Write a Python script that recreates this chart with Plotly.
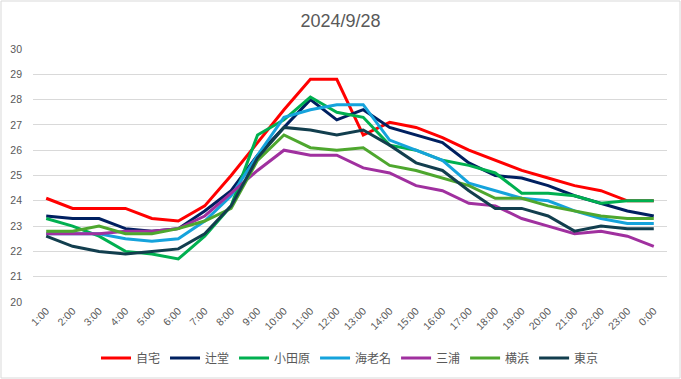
import plotly.graph_objects as go

hours = ["1:00", "2:00", "3:00", "4:00", "5:00", "6:00", "7:00", "8:00", "9:00", "10:00", "11:00", "12:00",
         "13:00", "14:00", "15:00", "16:00", "17:00", "18:00", "19:00", "20:00", "21:00", "22:00", "23:00", "0:00"]

jitaku = [24.1, 23.7, 23.7, 23.7, 23.3, 23.2, 23.8, 25.0, 26.3, 27.6, 28.8, 28.8,
          26.6, 27.1, 26.9, 26.5, 26.0, 25.6, 25.2, 24.9, 24.6, 24.4, 24.0, 24.0]
tsujido = [23.4, 23.3, 23.3, 22.9, 22.8, 22.9, 23.6, 24.4, 25.8, 26.9, 28.0, 27.2,
           27.6, 26.9, 26.6, 26.3, 25.5, 25.0, 24.9, 24.6, 24.2, 23.9, 23.6, 23.4]
odawara = [23.3, 23.0, 22.6, 22.0, 21.9, 21.7, 22.6, 23.8, 26.6, 27.2, 28.1, 27.5,
           27.3, 26.2, 26.0, 25.6, 25.4, 25.1, 24.3, 24.3, 24.2, 23.9, 24.0, 24.0]
ebina = [22.7, 22.7, 22.7, 22.5, 22.4, 22.5, 23.2, 24.2, 25.8, 27.3, 27.6, 27.8,
         27.8, 26.4, 26.0, 25.6, 24.7, 24.4, 24.1, 24.0, 23.6, 23.3, 23.1, 23.1]
miura = [22.7, 22.7, 22.7, 22.8, 22.8, 22.9, 23.4, 24.3, 25.2, 26.0, 25.8, 25.8,
         25.3, 25.1, 24.6, 24.4, 23.9, 23.8, 23.3, 23.0, 22.7, 22.8, 22.6, 22.2]
yokohama = [22.8, 22.8, 23.0, 22.7, 22.7, 22.9, 23.2, 23.7, 25.6, 26.6, 26.1, 26.0,
            26.1, 25.4, 25.2, 24.9, 24.6, 24.1, 24.1, 23.8, 23.6, 23.4, 23.3, 23.3]
tokyo = [22.6, 22.2, 22.0, 21.9, 22.0, 22.1, 22.7, 23.8, 25.7, 26.9, 26.8, 26.6,
         26.8, 26.2, 25.5, 25.2, 24.4, 23.7, 23.7, 23.4, 22.8, 23.0, 22.9, 22.9]

series_names = ["自宅", "辻堂", "小田原", "海老名", "三浦", "横浜", "東京"]
series_values = [jitaku, tsujido, odawara, ebina, miura, yokohama, tokyo]
series_colors = ["#FF0000", "#002060", "#00B050", "#15A3DC", "#A0309F", "#4EA72E", "#123E4E"]

y_ticks = list(range(20, 31))

fig = go.Figure()
for name, vals, col in zip(series_names, series_values, series_colors):
    fig.add_trace(go.Scatter(x=hours, y=vals, name=name, mode="lines",
                             line=dict(color=col, width=3)))

W, H = 681, 379
ml, mr, mt, mb = 33, 14, 49, 77
pw, ph = W - ml - mr, H - mt - mb

fig.update_layout(
    width=W, height=H,
    margin=dict(l=ml, r=mr, t=mt, b=mb, autoexpand=False),
    paper_bgcolor="white", plot_bgcolor="white",
    font=dict(family="Liberation Sans, Noto Sans CJK JP, sans-serif", color="#595959", size=11),
    title=dict(text="2024/9/28", x=0.5, xanchor="center", y=1 - 21 / H, yanchor="middle",
               font=dict(size=18, color="#595959")),
    showlegend=True,
    legend=dict(orientation="h", x=0.5, xanchor="center", yref="container", y=1 - 358 / H,
                yanchor="middle", font=dict(size=12, color="#595959"), itemwidth=30, tracegroupgap=0),
    xaxis=dict(type="category", range=[-0.5, 23.5], showgrid=False, tickangle=-45,
               ticks="", showline=False, tickfont=dict(size=10.5, color="#595959")),
    yaxis=dict(range=[20, 30], tickvals=y_ticks, showgrid=True, gridcolor="#D9D9D9", gridwidth=1,
               zeroline=False, showline=False, ticks="", ticklabelstandoff=10,
               tickfont=dict(size=10.5, color="#595959")),
)

fig.add_shape(type="rect", xref="paper", yref="paper",
              x0=-(ml - 1) / pw, x1=1 + (mr - 1) / pw, y0=-(mb - 1) / ph, y1=1 + (mt - 1) / ph,
              line=dict(color="#D9D9D9", width=1), fillcolor="rgba(0,0,0,0)", layer="below")

fig.write_html("out.html", config={"displayModeBar": False},
               post_script="document.body.style.margin='0';document.body.style.overflow='hidden';")
